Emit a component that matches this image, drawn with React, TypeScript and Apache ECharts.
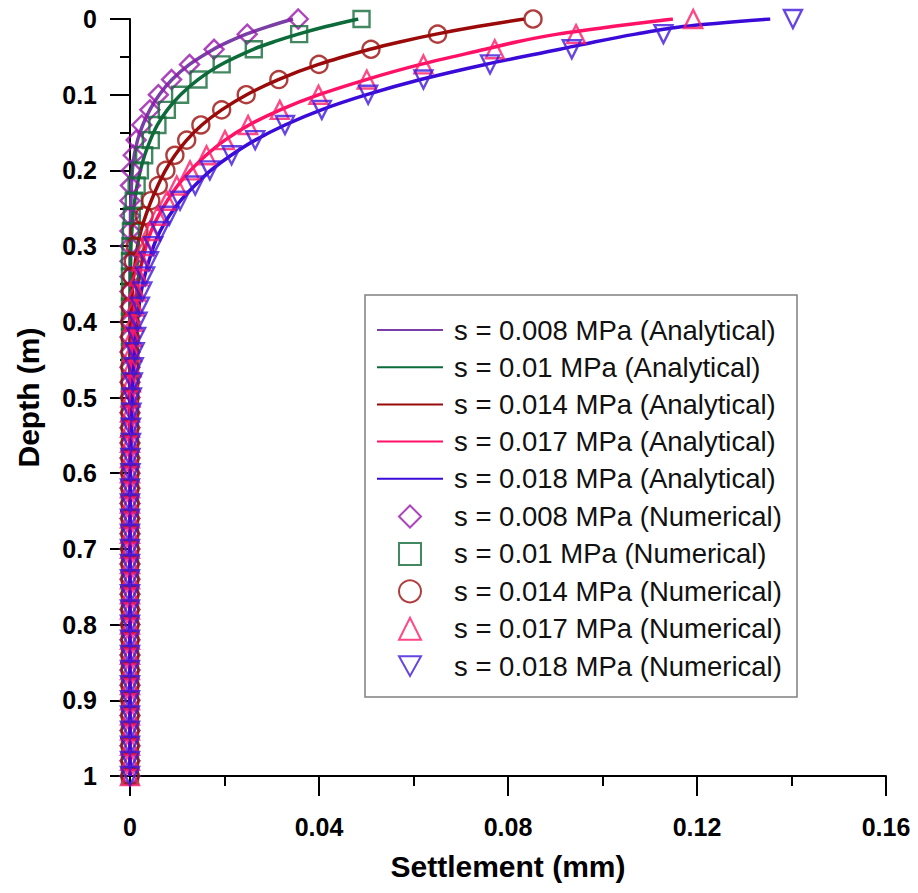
import React, { useEffect, useRef } from "react";
import * as echarts from "echarts";

// Depth points of the numerical (marker) results, m
const NUM_DEPTHS = [
  0, 0.02, 0.04, 0.06, 0.08, 0.1, 0.12, 0.14, 0.16, 0.18, 0.2, 0.22, 0.24, 0.26, 0.28, 0.3,
  0.32, 0.34, 0.36, 0.38, 0.4, 0.42, 0.44, 0.46, 0.48, 0.5, 0.52, 0.54, 0.56, 0.58, 0.6,
  0.62, 0.64, 0.66, 0.68, 0.7, 0.72, 0.74, 0.76, 0.78, 0.8, 0.82, 0.84, 0.86, 0.88, 0.9,
  0.92, 0.94, 0.96, 0.98, 1.0,
];

// Numerical settlements (mm) at NUM_DEPTHS
const NUM_008 = [
  0.0356, 0.0248, 0.0178, 0.0126, 0.0088, 0.006, 0.0042, 0.0025, 0.0013, 0.0007, 0.0003, 0.0001,
  0, 0, 0, 0, 0, 0, 0, 0, 0, 0, 0, 0, 0, 0, 0, 0, 0, 0, 0, 0, 0, 0, 0, 0, 0, 0, 0, 0, 0, 0, 0, 0, 0,
  0, 0, 0, 0, 0, 0,
];
const NUM_010 = [
  0.049, 0.0358, 0.0262, 0.0194, 0.0145, 0.0106, 0.0078, 0.0058, 0.0044, 0.003, 0.0021, 0.0014,
  0.0008, 0.0004, 0.0002, 0.0001, 0, 0, 0, 0, 0, 0, 0, 0, 0, 0, 0, 0, 0, 0, 0, 0, 0, 0, 0, 0, 0, 0,
  0, 0, 0, 0, 0, 0, 0, 0, 0, 0, 0, 0, 0,
];
const NUM_014 = [
  0.0853, 0.0651, 0.051, 0.04, 0.0315, 0.0246, 0.0194, 0.015, 0.012, 0.0095, 0.0076, 0.006, 0.0044,
  0.003, 0.0019, 0.0011, 0.0007, 0.0004, 0.0002, 0.0001, 0, 0, 0, 0, 0, 0, 0, 0, 0, 0, 0, 0, 0, 0,
  0, 0, 0, 0, 0, 0, 0, 0, 0, 0, 0, 0, 0, 0, 0, 0, 0,
];
const NUM_017 = [
  0.1192, 0.0944, 0.0772, 0.0621, 0.0501, 0.0399, 0.0317, 0.025, 0.0201, 0.0162, 0.0127, 0.0099,
  0.0078, 0.0058, 0.0043, 0.0032, 0.0024, 0.0018, 0.0013, 0.001, 0.0007, 0.0005, 0.0004, 0.0003,
  0.0002, 0.0001, 0, 0, 0, 0, 0, 0, 0, 0, 0, 0, 0, 0, 0, 0, 0, 0, 0, 0, 0, 0, 0, 0, 0, 0, 0,
];
const NUM_018 = [
  0.1403, 0.1129, 0.0935, 0.0762, 0.0621, 0.0504, 0.0406, 0.0328, 0.0265, 0.0215, 0.0169, 0.0138,
  0.0106, 0.0083, 0.0064, 0.0049, 0.004, 0.0032, 0.0026, 0.0021, 0.0016, 0.0013, 0.001, 0.0008,
  0.0006, 0.0004, 0.0003, 0.0002, 0.0002, 0.0001, 0.0001, 0, 0, 0, 0, 0, 0, 0, 0, 0, 0, 0, 0, 0,
  0, 0, 0, 0, 0, 0, 0,
];

// Depth points of the analytical curves, m
const ANA_DEPTHS = [
  0, 0.01, 0.02, 0.03, 0.04, 0.06, 0.08, 0.1, 0.12, 0.14, 0.16, 0.18, 0.2, 0.22, 0.24, 0.26, 0.28,
  0.3, 0.35, 0.4, 0.45, 0.5, 0.6, 0.7, 0.8, 0.9, 1.0,
];
const ANA_008 = [
  0.0345, 0.0292, 0.0246, 0.0209, 0.0177, 0.0126, 0.0089, 0.0062, 0.0042, 0.0027, 0.0016, 0.0009,
  0.0005, 0.0003, 0.0002, 0.0001, 0.0001, 0, 0, 0, 0, 0, 0, 0, 0, 0, 0,
];
const ANA_010 = [
  0.0483, 0.0415, 0.0356, 0.0305, 0.0261, 0.0193, 0.0144, 0.0107, 0.0079, 0.0058, 0.0043, 0.0031,
  0.0022, 0.0015, 0.001, 0.0006, 0.0004, 0.0002, 0.0001, 0, 0, 0, 0, 0, 0, 0, 0,
];
const ANA_014 = [
  0.0834, 0.0735, 0.0648, 0.0573, 0.0508, 0.0399, 0.0314, 0.0247, 0.0194, 0.0152, 0.012, 0.0095,
  0.0075, 0.0059, 0.0045, 0.0033, 0.0023, 0.0016, 0.0006, 0.0002, 0.0001, 0, 0, 0, 0, 0, 0,
];
const ANA_017 = [
  0.1149, 0.102, 0.0905, 0.082, 0.0752, 0.0615, 0.05, 0.04, 0.0318, 0.0252, 0.0201, 0.0161, 0.0128,
  0.0101, 0.0079, 0.006, 0.0045, 0.0034, 0.0016, 0.0007, 0.0003, 0.0001, 0, 0, 0, 0, 0,
];
const ANA_018 = [
  0.1355, 0.117, 0.107, 0.0985, 0.091, 0.0752, 0.0615, 0.0501, 0.0405, 0.0328, 0.0265, 0.0214,
  0.0171, 0.0137, 0.0107, 0.0083, 0.0064, 0.005, 0.0027, 0.0015, 0.0009, 0.0005, 0.0001, 0, 0, 0, 0,
];

const X_TICKS = [0, 0.04, 0.08, 0.12, 0.16];
const Y_TICKS = [0, 0.1, 0.2, 0.3, 0.4, 0.5, 0.6, 0.7, 0.8, 0.9, 1];

const STRESSES = ["0.008", "0.01", "0.014", "0.017", "0.018"];
const LINE_COLORS = ["#7a3fa6", "#0b6b3a", "#9a0a0a", "#ff1166", "#3a0ad8"];
const MARK_COLORS = ["#9a14ae", "#136a3a", "#9c0c0c", "#ff1a66", "#4018dc"];
const SYMBOLS = ["diamond", "rect", "circle", "triangle", "triangle"];
const SYMBOL_SIZES = [19, 16, 17, 18, 18];
const SYMBOL_ROTATE = [0, 0, 0, 0, 180];
const LEGEND_ICONS = ["diamond", "rect", "circle", "triangle", "path://M0,0 L20,0 L10,18 Z"];

const ANA = [ANA_008, ANA_010, ANA_014, ANA_017, ANA_018];
const NUM = [NUM_008, NUM_010, NUM_014, NUM_017, NUM_018];

const FONT = "'Liberation Sans', Arial, Helvetica, sans-serif";

export default function App() {
  const ref = useRef<HTMLDivElement>(null);

  useEffect(() => {
    if (!ref.current) return;
    const chart = echarts.init(ref.current, undefined, { renderer: "svg" });

    const lineSeries = ANA.map((vals, i) => ({
      name: `s = ${STRESSES[i]} MPa (Analytical)`,
      type: "line",
      data: vals.map((v, k) => [v, ANA_DEPTHS[k]]),
      showSymbol: false,
      symbol: "none",
      smooth: 0.3,
      lineStyle: { color: LINE_COLORS[i], width: 3.5 },
      itemStyle: { color: LINE_COLORS[i] },
      z: 2,
    }));

    const scatterSeries = NUM.map((vals, i) => ({
      name: `s = ${STRESSES[i]} MPa (Numerical)`,
      type: "scatter",
      data: vals.map((v, k) => [v, NUM_DEPTHS[k]]),
      symbol: SYMBOLS[i],
      symbolSize: SYMBOL_SIZES[i],
      symbolRotate: SYMBOL_ROTATE[i],
      symbolKeepAspect: true,
      itemStyle: {
        color: "rgba(255,255,255,0)",
        borderColor: MARK_COLORS[i],
        borderWidth: 2.4,
      },
      z: 3,
    }));

    const axisCommon = {
      axisLine: { show: true, onZero: false, lineStyle: { color: "#000", width: 2 } },
      axisTick: { show: true, inside: false, length: 20, lineStyle: { color: "#000", width: 2 } },
      minorTick: { show: true, splitNumber: 2, length: 10, lineStyle: { color: "#000", width: 2 } },
      splitLine: { show: false },
      minorSplitLine: { show: false },
      nameTextStyle: { fontFamily: FONT, fontWeight: "bold", fontSize: 30, color: "#000" },
    };

    const legendText = {
      fontFamily: FONT,
      fontSize: 27.5,
      color: "#111",
    };

    chart.setOption({
      animation: false,
      backgroundColor: "#fff",
      grid: { left: 130, right: 32, top: 19, bottom: 117, containLabel: false },
      graphic: [
        {
          type: "rect",
          shape: { x: 365, y: 295, width: 432, height: 402 },
          style: { fill: "#fff", stroke: "#808080", lineWidth: 1.5 },
          z: 90,
        },
      ],
      xAxis: {
        type: "value",
        min: X_TICKS[0],
        max: X_TICKS[X_TICKS.length - 1],
        interval: X_TICKS[1] - X_TICKS[0],
        name: "Settlement (mm)",
        nameLocation: "middle",
        nameGap: 75,
        ...axisCommon,
        axisLabel: { margin: 38, fontFamily: FONT, fontWeight: "bold", fontSize: 25, color: "#000" },
      },
      yAxis: {
        type: "value",
        inverse: true,
        min: Y_TICKS[0],
        max: Y_TICKS[Y_TICKS.length - 1],
        interval: Y_TICKS[1] - Y_TICKS[0],
        name: "Depth (m)",
        nameLocation: "middle",
        nameGap: 87,
        ...axisCommon,
        axisLabel: { margin: 33, fontFamily: FONT, fontWeight: "bold", fontSize: 25, color: "#000" },
      },
      legend: [
        {
          orient: "vertical",
          left: 376,
          top: 316,
          padding: 0,
          itemWidth: 66,
          itemHeight: 22,
          itemGap: 9.2,
          selectedMode: false,
          textStyle: { ...legendText, padding: [0, 0, 0, 6] },
          data: lineSeries.map((s) => ({ name: s.name, itemStyle: { opacity: 0 } })),
          z: 100,
        },
        {
          orient: "vertical",
          left: 398,
          top: 502.5,
          padding: 0,
          itemWidth: 22,
          itemHeight: 22,
          itemGap: 9.4,
          selectedMode: false,
          symbolKeepAspect: true,
          textStyle: { ...legendText, padding: [0, 0, 0, 28] },
          data: scatterSeries.map((s, i) => ({ name: s.name, icon: LEGEND_ICONS[i] })),
          z: 100,
        },
      ],
      series: [...lineSeries, ...scatterSeries],
    });

    return () => chart.dispose();
  }, []);

  return (
    <div
      ref={ref}
      style={{ position: "fixed", left: 0, top: 0, width: 918, height: 893, background: "#fff" }}
    />
  );
}
